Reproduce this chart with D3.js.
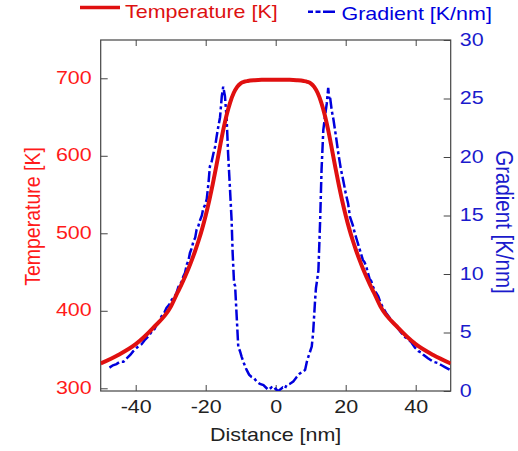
<!DOCTYPE html>
<html>
<head>
<meta charset="utf-8">
<script src="https://cdn.jsdelivr.net/npm/d3@7"></script>
<style>
  html, body { margin: 0; padding: 0; background: #fff; }
  svg { display: block; font-family: "Liberation Sans", Arial, sans-serif; }
</style>
</head>
<body>
<svg id="chart" width="518" height="451"></svg>
<script>
// Temperature profile across the hot region: [distance nm, temperature K]
const temperatureProfile = [
  [-50, 332], [-45, 343], [-40, 357], [-35, 378], [-30, 405], [-28, 424], [-27, 433],
  [-26, 443], [-25, 453.5], [-24, 465], [-23, 477.5], [-22, 491], [-21, 506], [-20, 523],
  [-19, 542], [-18, 563], [-17, 586], [-16, 610], [-15, 633], [-14, 653], [-13, 669],
  [-12, 681], [-11, 689], [-10, 693.5], [-9, 695.5], [-8, 696.5], [-6, 697.5], [-4, 698],
  [-2, 698], [0, 698], [2, 698], [4, 698], [6, 697.5], [8, 696.5], [9, 695.5], [10, 693.5],
  [11, 689], [12, 681], [13, 669], [14, 653], [15, 633], [16, 610], [17, 586], [18, 563],
  [19, 542], [20, 523], [21, 506], [22, 491], [23, 477.5], [24, 465], [25, 453.5], [26, 443],
  [27, 433], [28, 424], [30, 405], [35, 378], [40, 357], [45, 343], [50, 332]
];

// Temperature gradient magnitude: [distance nm, gradient K/nm]
const gradientProfile = [
  [-47.5, 2.0], [-46.5, 2.2], [-45.5, 2.3], [-44.5, 2.5], [-43.5, 2.5], [-42.5, 2.8],
  [-41.5, 3.1], [-40.7, 3.4], [-39.3, 3.8], [-38.3, 4.0], [-37.3, 4.4], [-36.3, 4.7],
  [-35.4, 5.1], [-34.6, 5.3], [-34, 5.7], [-33.2, 6.0], [-32.6, 6.4], [-31.8, 6.7],
  [-31.2, 7.1], [-30.4, 7.4], [-29.7, 7.8], [-29, 8.0], [-28.3, 8.4], [-27.8, 8.9],
  [-27.3, 9.1], [-26.8, 9.4], [-26.4, 9.8], [-25.9, 10.1], [-25.4, 10.8], [-24.9, 11.2],
  [-24.5, 11.8], [-24, 12.2], [-23.5, 12.8], [-23, 13.1], [-22.6, 13.8], [-22.1, 14.1],
  [-21.6, 14.6], [-21.1, 15.0], [-20.7, 15.6], [-20.2, 15.9], [-19.7, 16.4], [-19.2, 17.8],
  [-18.8, 19.2], [-18.3, 19.6], [-17.8, 20.3], [-17.3, 20.9], [-16.9, 21.7], [-16.4, 22.6],
  [-15.9, 23.4], [-15.4, 25.2], [-15, 26.0], [-14.5, 25.2], [-14, 23.2], [-13.6, 20.3],
  [-13.1, 17.5], [-12.6, 14.6], [-12.3, 11.8], [-11.9, 9.2], [-11.6, 9.0], [-11.1, 6.1],
  [-10.7, 3.8], [-10.2, 3.4], [-9.7, 2.9], [-9, 2.3], [-8.3, 1.8], [-7.6, 1.4],
  [-6.9, 1.2], [-6.2, 1.1], [-5.4, 0.8], [-4.5, 0.6], [-3.5, 0.5], [-2.8, 0.3],
  [-2.1, 0.1], [-1.2, 0.3], [-0.5, 0.1], [0, 0.2], [0.6, 0.0], [1.2, 0.1],
  [2, 0.3], [2.6, 0.2], [3.1, 0.5], [4, 0.6], [5, 0.8], [6, 1.2],
  [6.9, 1.5], [7.6, 1.6], [8.4, 1.8], [8.9, 2.5], [9.3, 2.9], [10.3, 3.8],
  [10.7, 5.0], [11.2, 7.5], [11.5, 8.8], [11.7, 9.2], [12.2, 10.3], [12.7, 14.6],
  [13.1, 18.9], [13.6, 22.3], [14.1, 23.5], [14.6, 24.6], [15, 25.9], [15.3, 25.0],
  [15.5, 25.2], [16, 24.0], [16.5, 23.2], [17.2, 21.8], [17.9, 20.3], [18.6, 19.0],
  [19.3, 18.0], [20, 16.9], [20.7, 16.0], [21.2, 14.9], [22, 14.2], [22.6, 13.5],
  [23.3, 12.8], [24, 12.1], [24.9, 11.2], [25.4, 11.0], [25.9, 10.6], [26.8, 9.6],
  [27.3, 9.4], [27.8, 8.9], [28.5, 8.5], [29.3, 8.1], [30, 7.5], [30.7, 7.1],
  [31.7, 6.6], [32.7, 6.2], [33.6, 5.8], [34.6, 5.5], [35.8, 5.0], [37, 4.6],
  [38, 4.4], [38.9, 4.1], [39.8, 3.7], [40.8, 3.4], [41.5, 3.3], [42.2, 3.1],
  [43.5, 2.8], [45, 2.5], [46.2, 2.4], [47.4, 2.2], [48.6, 2.0], [49.8, 1.8]
];

const distanceTicks = [-40, -20, 0, 20, 40];
const temperatureTicks = [300, 400, 500, 600, 700];
const gradientTicks = [0, 5, 10, 15, 20, 25, 30];

const labels = {
  x: "Distance [nm]",
  yLeft: "Temperature [K]",
  yRight: "Gradient [K/nm]",
  legendT: "Temperature [K]",
  legendG: "Gradient [K/nm]"
};

const RED = "#e01010", RED_TEXT = "#ff1a1a", RED_LEGEND = "#dd1111";
const BLUE = "#0000dd", BLUE_TEXT = "#1a1acc";
const FRAME = "#444";
const FONT = 19;
const WIDEN = 1.13;           // horizontal widening of the lettering
const DASH = "11,3,3,3";

const plot = { left: 100.7, right: 450.7, top: 40, bottom: 391 };

const svg = d3.select("#chart");

const x = d3.scaleLinear([-50, 50], [plot.left, plot.right]);
const yT = d3.scaleLinear([296.5, 749.4], [plot.bottom, plot.top]);
const yG = d3.scaleLinear([0, 30], [plot.bottom, plot.top]);

const plainNumber = d => String(d);   // ASCII hyphen for negatives

function widen(sel) {
  sel.each(function () {
    const L = this.getComputedTextLength();
    this.setAttribute("textLength", L * WIDEN);
    this.setAttribute("lengthAdjust", "spacingAndGlyphs");
  });
}

svg.append("clipPath").attr("id", "plotClip")
  .append("rect")
  .attr("x", plot.left).attr("y", plot.top)
  .attr("width", plot.right - plot.left).attr("height", plot.bottom - plot.top);

// Frame
svg.append("rect")
  .attr("x", plot.left).attr("y", plot.top)
  .attr("width", plot.right - plot.left).attr("height", plot.bottom - plot.top)
  .attr("fill", "none").attr("stroke", FRAME).attr("stroke-width", 1.2);

// Bottom axis (inward ticks)
const gx = svg.append("g").attr("transform", `translate(0,${plot.bottom})`)
  .call(d3.axisBottom(x).tickValues(distanceTicks).tickFormat(plainNumber)
    .tickSizeInner(-6).tickSizeOuter(0).tickPadding(9));
gx.select(".domain").remove();
gx.selectAll(".tick line").attr("stroke", FRAME);
gx.selectAll(".tick text").attr("fill", "#222").attr("font-size", FONT)
  .attr("font-family", "Liberation Sans, Arial, sans-serif").attr("dy", "0.71em");

// Top edge ticks
const gTop = svg.append("g").attr("transform", `translate(0,${plot.top})`)
  .call(d3.axisTop(x).tickValues(distanceTicks).tickSizeInner(-6).tickSizeOuter(0).tickFormat(""));
gTop.select(".domain").remove();
gTop.selectAll(".tick line").attr("stroke", FRAME);

// Left axis: temperature
const gl = svg.append("g").attr("transform", `translate(${plot.left},0)`)
  .call(d3.axisLeft(yT).tickValues(temperatureTicks).tickFormat(plainNumber)
    .tickSizeInner(-7).tickSizeOuter(0).tickPadding(9));
gl.select(".domain").remove();
gl.selectAll(".tick line").attr("stroke", FRAME);
gl.selectAll(".tick text").attr("fill", RED_TEXT).attr("font-size", FONT)
  .attr("font-family", "Liberation Sans, Arial, sans-serif").attr("dy", "0.27em");

// Right axis: gradient
const gr = svg.append("g").attr("transform", `translate(${plot.right},0)`)
  .call(d3.axisRight(yG).tickValues(gradientTicks).tickFormat(plainNumber)
    .tickSizeInner(-7).tickSizeOuter(0).tickPadding(9));
gr.select(".domain").remove();
gr.selectAll(".tick line").attr("stroke", FRAME);
gr.selectAll(".tick text").attr("fill", BLUE_TEXT).attr("font-size", FONT)
  .attr("font-family", "Liberation Sans, Arial, sans-serif").attr("dy", "0.27em");

// Curves
const marks = svg.append("g").attr("clip-path", "url(#plotClip)");

marks.append("path")
  .datum(gradientProfile)
  .attr("fill", "none").attr("stroke", BLUE).attr("stroke-width", 2.5)
  .attr("stroke-dasharray", DASH)
  .attr("d", d3.line().x(d => x(d[0])).y(d => yG(d[1])));

marks.append("path")
  .datum(temperatureProfile)
  .attr("fill", "none").attr("stroke", RED).attr("stroke-width", 4)
  .attr("stroke-linejoin", "round")
  .attr("d", d3.line().curve(d3.curveMonotoneX).x(d => x(d[0])).y(d => yT(d[1])));

// Axis titles
svg.append("text")
  .attr("transform", `translate(${(plot.left + plot.right) / 2},441)`)
  .attr("text-anchor", "middle").attr("font-size", FONT).attr("fill", "#222")
  .text(labels.x);

svg.append("text")
  .attr("transform", `translate(39.5,216.5) scale(${WIDEN},1) rotate(-90)`)
  .attr("text-anchor", "middle").attr("font-size", 19.5).attr("fill", RED_TEXT)
  .text(labels.yLeft);

svg.append("text")
  .attr("transform", `translate(496,222) scale(${WIDEN},1) rotate(90)`)
  .attr("text-anchor", "middle").attr("font-size", 20.5).attr("fill", BLUE_TEXT)
  .text(labels.yRight);

// Legend
const legend = svg.append("g");
legend.append("line")
  .attr("x1", 80).attr("x2", 120).attr("y1", 7.5).attr("y2", 7.5)
  .attr("stroke", RED).attr("stroke-width", 3.5);
legend.append("text")
  .attr("x", 125).attr("y", 17.5).attr("font-size", FONT).attr("fill", RED_LEGEND)
  .text(labels.legendT);
legend.append("line")
  .attr("x1", 308).attr("x2", 335).attr("y1", 11.7).attr("y2", 11.7)
  .attr("stroke", BLUE).attr("stroke-width", 2.5).attr("stroke-dasharray", "5,2.5,5,2.5,20");
legend.append("text")
  .attr("x", 341.5).attr("y", 20).attr("font-size", FONT).attr("fill", BLUE)
  .text(labels.legendG);

// Widen horizontal lettering
widen(svg.selectAll(".tick text"));
widen(legend.selectAll("text"));
widen(svg.selectAll("svg > text").filter(function () {
  return (this.getAttribute("transform") || "").indexOf("rotate") < 0;
}));
</script>
</body>
</html>
